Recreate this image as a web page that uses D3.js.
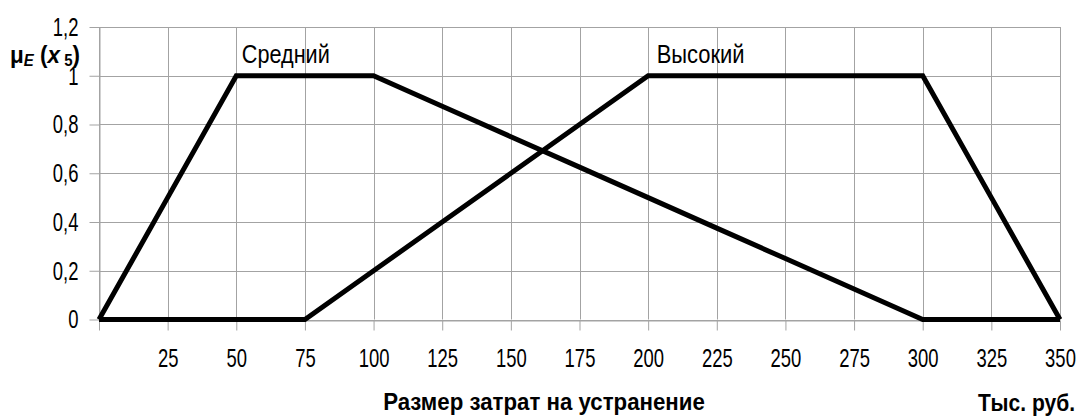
<!DOCTYPE html>
<html>
<head>
<meta charset="utf-8">
<script src="https://cdn.jsdelivr.net/npm/d3@7"></script>
<style>
  body { margin: 0; background: #fff; }
  svg { font-family: "Liberation Sans", Arial, sans-serif; }
</style>
</head>
<body>
<div id="chart"></div>
<script>
// Membership functions, sampled every 25 thousand rubles
const xValues = [0, 25, 50, 75, 100, 125, 150, 175, 200, 225, 250, 275, 300, 325, 350];
const srednij = [0, 0.5, 1, 1, 1, 0.875, 0.75, 0.625, 0.5, 0.375, 0.25, 0.125, 0, 0, 0];
const vysokij = [0, 0, 0, 0, 0.2, 0.4, 0.6, 0.8, 1, 1, 1, 1, 1, 0.5, 0];
const seriesNames = ["Средний", "Высокий"];
const yTicks = [0, 0.2, 0.4, 0.6, 0.8, 1, 1.2];

const width = 1083, height = 419;
const svg = d3.select("#chart")
  .append("svg")
  .attr("width", width)
  .attr("height", height);

const x = d3.scaleLinear().domain([0, 350]).range([99, 1060]);
const y = d3.scaleLinear().domain([0, 1.2]).range([319.5, 27]);

// squeeze text horizontally around its anchor so it fits a given width
function fit(sel, w) {
  sel.each(function() {
    const t = d3.select(this);
    const ax = +t.attr("x") || 0;
    const sx = w / this.getBBox().width;
    t.attr("transform", `translate(${ax},0) scale(${sx},1) translate(${-ax},0)`);
  });
}
function squeeze(sel, sx) {
  sel.each(function() {
    const t = d3.select(this);
    const ax = +t.attr("x") || 0;
    t.attr("transform", `translate(${ax},0) scale(${sx},1) translate(${-ax},0)`);
  });
}

const gridColor = "#a3a3a3";

// Grid
svg.append("g")
  .selectAll("line")
  .data(yTicks)
  .join("line")
  .attr("x1", x(0)).attr("x2", x(350))
  .attr("y1", d => Math.round(y(d)) + 0.5).attr("y2", d => Math.round(y(d)) + 0.5)
  .attr("stroke", gridColor);

svg.append("g")
  .selectAll("line")
  .data(xValues)
  .join("line")
  .attr("x1", d => Math.round(x(d)) + 0.5).attr("x2", d => Math.round(x(d)) + 0.5)
  .attr("y1", y(1.2)).attr("y2", y(0))
  .attr("stroke", gridColor);

// Axes
const fmtY = d => String(+d.toFixed(1)).replace(".", ",");

const yAxis = svg.append("g")
  .attr("transform", `translate(${Math.round(x(0)) + 0.5},0)`)
  .call(d3.axisLeft(y).tickValues(yTicks).tickSize(10).tickSizeOuter(0).tickPadding(11).tickFormat(fmtY));

const xAxis = svg.append("g")
  .attr("transform", `translate(0,${Math.round(y(0)) + 0.5})`)
  .call(d3.axisBottom(x).tickValues(xValues).tickSize(10).tickSizeOuter(0).tickPadding(18)
    .tickFormat(d => d === 0 ? "" : d));

[xAxis, yAxis].forEach(g => {
  g.selectAll("path, line").attr("stroke", gridColor);
  g.selectAll("text")
    .attr("fill", "#000")
    .style("font-family", "'Liberation Sans', Arial, sans-serif")
    .style("font-size", "26px");
  squeeze(g.selectAll("text"), 0.71);
});

// Lines
const line = d3.line()
  .x((d, i) => x(xValues[i]))
  .y(d => y(d));

svg.append("g")
  .selectAll("path")
  .data([srednij, vysokij])
  .join("path")
  .attr("d", line)
  .attr("fill", "none")
  .attr("stroke", "#000")
  .attr("stroke-width", 5)
  .attr("stroke-linejoin", "miter");

// Series labels
const labels = svg.append("g")
  .style("font-size", "25px")
  .selectAll("text")
  .data(seriesNames)
  .join("text")
  .attr("x", (d, i) => i === 0 ? x(50) + 5.5 : x(200) + 8.5)
  .attr("y", (d, i) => y(1) - 12.5)
  .text(d => d);
fit(labels, 88);

// Axis titles
const xTitle = svg.append("text")
  .attr("x", 544)
  .attr("y", 410)
  .attr("text-anchor", "middle")
  .style("font-size", "24px")
  .style("font-weight", "bold")
  .text("Размер затрат на устранение");
fit(xTitle, 322);

const unit = svg.append("text")
  .attr("x", 1075)
  .attr("y", 411)
  .attr("text-anchor", "end")
  .style("font-size", "24px")
  .style("font-weight", "bold")
  .text("Тыс. руб.");
fit(unit, 97);

const yTitle = svg.append("text")
  .attr("x", 10)
  .attr("y", 63)
  .style("font-size", "24px")
  .style("font-weight", "bold");
yTitle.append("tspan").text("μ");
yTitle.append("tspan").attr("dy", 3).style("font-size", "16px").style("font-style", "italic").text("E");
yTitle.append("tspan").attr("dy", -3).text(" (");
yTitle.append("tspan").style("font-style", "italic").text("x");
yTitle.append("tspan").attr("dy", 3).style("font-size", "16px").text(" 5");
yTitle.append("tspan").attr("dy", -3).text(")");
fit(yTitle, 70);
</script>
</body>
</html>
